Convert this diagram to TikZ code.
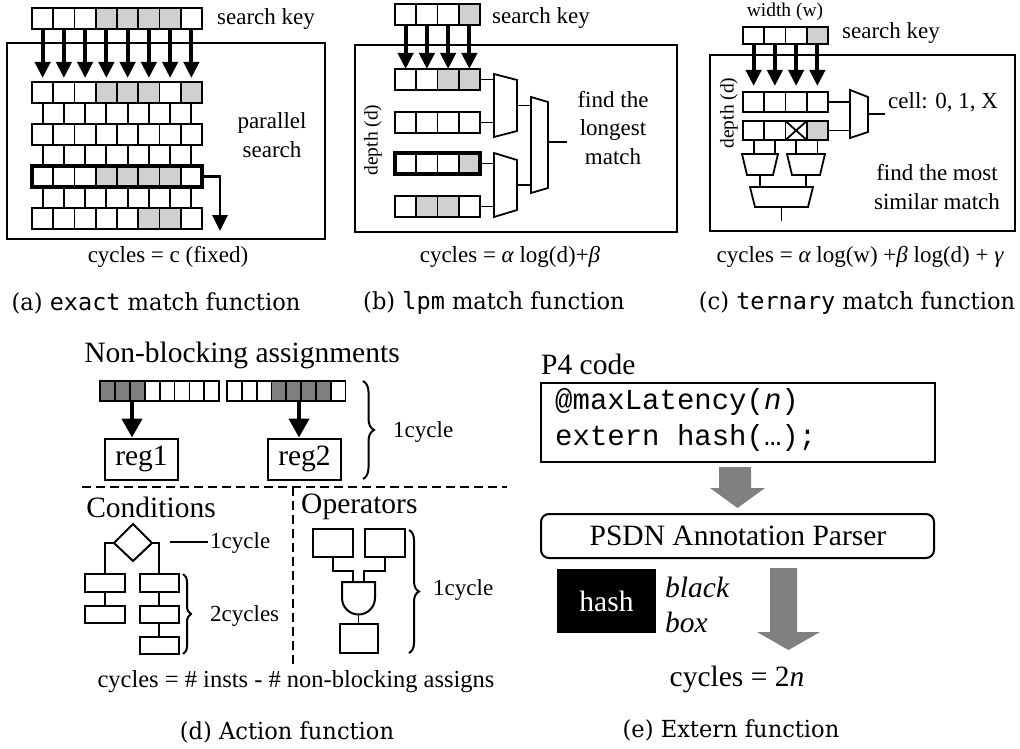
\documentclass[tikz,border=0pt]{standalone}
\usepackage{fontspec}
\setmainfont{Liberation Serif}
\newfontfamily\capfont{DejaVu Serif}[FakeStretch=0.96]
\newfontfamily\capmono{DejaVu Sans Mono}
\newfontfamily\codefont{Liberation Mono}
\usetikzlibrary{arrows.meta,decorations.pathreplacing,calc}

% a row of n empty cells of size w x h starting at (x0,y0)
\newcommand\cellrow[5]{%
  \foreach \k in {1,...,#5}{\draw[cellline] ({#1+(\k-1)*(#3)},#2) rectangle ++(#3,#4);}}
% fill the listed cells (0-based) of a row
\newcommand\cellfill[6]{%
  \foreach \k in {#6}{\fill[#5] ({#1+\k*(#3)},#2) rectangle ++(#3,#4);}}

\definecolor{keygray}{HTML}{D0D0D0}
\definecolor{darkbit}{HTML}{7F7F7F}
\definecolor{flowgray}{HTML}{808080}

\tikzset{
  lbl/.style={inner sep=0pt, font=\fontsize{23}{28.5}\selectfont},
  small/.style={inner sep=0pt, font=\fontsize{19.5}{22}\selectfont},
  headtxt/.style={inner sep=0pt, font=\fontsize{29.5}{35}\selectfont},
  subcap/.style={inner sep=0pt, font=\capfont\fontsize{23.5}{28}\selectfont},
  frame/.style={draw, line width=2pt},
  cellline/.style={draw, line width=1.8pt},
  boldrow/.style={draw, line width=3.3pt},
  wire/.style={draw, line width=1.8pt},
  keyarrow/.style={line width=4pt, -{Triangle[width=15pt,length=16pt]}},
  bitarrow/.style={line width=4.2pt, -{Triangle[width=20pt,length=19pt]}},
  mux/.style={draw, line width=1.8pt, fill=white},
  brace/.style={draw, line width=2pt, decorate, decoration={brace, amplitude=#1}},
  brace/.default=10pt,
  dashline/.style={draw, line width=2pt, dash pattern=on 9pt off 5pt},
  blockarrow/.style={fill=flowgray},
  regbox/.style={draw, line width=2pt, minimum width=73pt, minimum height=41pt,
    inner sep=0pt, font=\fontsize{29.5}{35}\selectfont},
  stepbox/.style={draw, line width=2pt},
}

\begin{document}
\begin{tikzpicture}[x=1pt, y=-1pt, line join=miter]
\useasboundingbox (0,0) rectangle (1020,749);

% ================= (a) exact match =================
\draw[frame] (7,43) rectangle (325,239);
\cellfill{32}{8}{21.25}{21}{keygray}{3,4,5,6}
\cellrow{32}{8}{21.25}{21}{8}
\foreach \k in {0,...,7}
  \draw[keyarrow] ({32+(\k+0.5)*21.25},29) -- ({32+(\k+0.5)*21.25},78);
% brick-like table rows
\cellfill{32}{82}{21.25}{21}{keygray}{3,4,5,7}
\cellrow{32}{82}{21.25}{21}{8}
\cellrow{42.6}{103}{21.25}{21}{7}
\cellrow{32}{124}{21.25}{21}{8}
\cellrow{42.6}{145}{21.25}{21}{7}
\cellfill{32}{166}{21.25}{21}{keygray}{3,4,5,6}
\cellrow{32}{166}{21.25}{21}{8}
\draw[boldrow] (32,166) rectangle ++(170,21);
\cellrow{42.6}{187}{21.25}{21}{7}
\cellfill{32}{208}{21.25}{21}{keygray}{5,6}
\cellrow{32}{208}{21.25}{21}{8}
\coordinate (hitA) at (202,176.5);
\coordinate (outA) at (220,231);
\draw[line width=2.8pt, -{Triangle[width=15pt,length=16pt]}] (hitA) -| (outA);
\node[lbl, anchor=west] (keyA) at (217,19) {search key};
\node[lbl, align=center] (parA) at (272,135) {parallel\\search};
\node[lbl] (cycA) at (168,257) {cycles = c (fixed)};
\node[subcap] (capA) at (156,303) {(a) {\capmono exact} match function};

% ================= (b) lpm match =================
\draw[frame] (355,45) rectangle (677,232);
\cellfill{395}{4}{21.25}{21}{keygray}{3}
\cellrow{395}{4}{21.25}{21}{4}
\foreach \k in {0,...,3}
  \draw[keyarrow] ({395+(\k+0.5)*21.25},25) -- ({395+(\k+0.5)*21.25},69);
\cellfill{395}{69}{21.25}{21}{keygray}{2,3}
\cellrow{395}{69}{21.25}{21}{4}
\cellrow{395}{112}{21.25}{21}{4}
\cellfill{395}{153}{21.25}{21}{keygray}{3}
\cellrow{395}{153}{21.25}{21}{4}
\draw[boldrow] (395,153) rectangle ++(85,21);
\cellfill{395}{196}{21.25}{21}{keygray}{1,2}
\cellrow{395}{196}{21.25}{21}{4}
% priority multiplexers
\draw[mux] (494,74) -- (517,80) -- (517,131) -- (494,137) -- cycle;
\draw[mux] (494,153) -- (517,160) -- (517,210) -- (494,217) -- cycle;
\draw[mux] (531,97) -- (548,102) -- (548,188) -- (531,193) -- cycle;
\draw[wire] (480,79.5) -- (494,79.5);
\draw[wire] (480,122.5) -- (494,122.5);
\draw[wire] (480,163.5) -- (494,163.5);
\draw[wire] (480,206.5) -- (494,206.5);
\draw[wire] (517,105.5) -- (531,105.5);
\draw[wire] (517,185) -- (531,185);
\draw[wire] (548,142) -- (567,142);
\node[small, rotate=90] (depB) at (373,140) {depth (d)};
\node[lbl, align=center] (findB) at (613,128) {find the\\longest\\match};
\node[lbl, anchor=west] (keyB) at (492,18) {search key};
\node[lbl] (cycB) at (510,257) {cycles = {\itshape α} log(d)+{\itshape β}};
\node[subcap] (capB) at (494,303) {(b) {\capmono lpm} match function};

% ================= (c) ternary match =================
\draw[frame] (710,55) rectangle (1015,231);
\node[small] (widC) at (785,12) {width (w)};
\cellfill{743}{27}{21.25}{17}{keygray}{3}
\cellrow{743}{27}{21.25}{17}{4}
\foreach \k in {0,...,3}
  \draw[keyarrow] ({743+(\k+0.5)*21.25},44) -- ({743+(\k+0.5)*21.25},86);
\cellrow{743}{92}{21.25}{20}{4}
\draw[boldrow, line width=2.8pt] (743,92) rectangle ++(85,20);
\cellfill{743}{121}{21.25}{19}{keygray}{3}
\cellrow{743}{121}{21.25}{19}{4}
\draw[line width=1.8pt] (785.5,121) -- (806.75,140) (785.5,140) -- (806.75,121);
\draw[boldrow, line width=2.8pt] (743,121) rectangle ++(85,19);
% comparator tree
\draw[mux] (850,90) -- (868,97) -- (868,132) -- (850,138) -- cycle;
\draw[wire] (828,102) -- (850,102);
\draw[wire] (828,130.5) -- (850,130.5);
\draw[wire] (868,114) -- (885,114);
\foreach \xx in {753.6,774.9,796.1,817.4} \draw[wire] (\xx,140) -- (\xx,154);
\draw[mux] (742,154) -- (778,154) -- (773,175) -- (747,175) -- cycle;
\draw[mux] (787,154) -- (825,154) -- (820,175) -- (792,175) -- cycle;
\draw[wire] (760,175) -- (760,187);
\draw[wire] (806,175) -- (806,187);
\draw[mux] (750,187) -- (813,187) -- (808,207) -- (755,207) -- cycle;
\draw[wire] (781.5,207) -- (781.5,221);
\node[small, rotate=90] (depC) at (729,113) {depth (d)};
\node[lbl, anchor=west] (keyC) at (842,33) {search key};
\node[lbl, anchor=west] (cellC) at (888,102) {cell: 0, 1, X};
\node[lbl, align=center] (findC) at (937,187) {find the most\\similar match};
\node[lbl] (cycC) at (860,257) {cycles = {\itshape α} log(w) +{\itshape β} log(d) + {\itshape γ}};
\node[subcap] (capC) at (857,303) {(c) {\capmono ternary} match function};

% ================= (d) action function =================
\node[headtxt] (nba) at (242,355) {Non-blocking assignments};
\cellfill{100}{381}{14.9}{20}{darkbit}{0,1,2}
\cellrow{100}{381}{14.9}{20}{8}
\cellfill{227}{381}{14.8}{20}{darkbit}{3,4,5,6}
\cellrow{227}{381}{14.8}{20}{8}
\node[regbox] (reg1) at (141.5,459) {reg1};
\node[regbox] (reg2) at (304.5,459) {reg2};
\coordinate (src1) at (132,401);
\coordinate (src2) at (299,401);
\draw[bitarrow] (src1) -- (src1 |- reg1.north);
\draw[bitarrow] (src2) -- (src2 |- reg2.north);
\draw[brace=11pt] (363,381) -- (363,479);
\node[lbl, anchor=west] (cyc1) at (393,432) {1cycle};
\draw[dashline] (82,487) -- (507,487);
\draw[dashline] (293,487) -- (293,664);
\node[headtxt] (condT) at (151,507) {Conditions};
\node[headtxt, anchor=west] (opT) at (301,507) {Operators};
% conditions flow
\draw[stepbox] (133,524) -- (152,543) -- (133,561) -- (114,543) -- cycle;
\draw[stepbox] (85,574) rectangle (125,592);
\draw[stepbox] (85,606) rectangle (125,623);
\draw[stepbox] (140,574) rectangle (179,592);
\draw[stepbox] (140,606) rectangle (179,623);
\draw[stepbox] (140,637) rectangle (179,654);
\draw[wire] (114,543) -| (105,574);
\draw[wire] (152,543) -| (159,574);
\draw[wire] (105,592) -- (105,606);
\draw[wire] (159,592) -- (159,606);
\draw[wire] (159,623) -- (159,637);
\draw[wire] (170,542) -- (208,542);
\node[lbl, anchor=west] (cyc2) at (210,543) {1cycle};
\draw[brace=8pt] (183,574) -- (183,654);
\node[lbl, anchor=west] (cyc3) at (210,616) {2cycles};
% operators
\draw[stepbox] (313,529) rectangle (353,557);
\draw[stepbox] (365,529) rectangle (405,557);
\draw[wire] (333,557) -- (333,571) -- (353,571) -- (353,582);
\draw[wire] (385,557) -- (385,571) -- (364,571) -- (364,582);
\draw[stepbox] (342,582) -- (375,582) -- (375,598)
   arc[start angle=0, end angle=180, radius=16.5] -- cycle;
\draw[wire] (358.5,614.5) -- (358.5,624);
\draw[stepbox] (340,624) rectangle (378,653);
\draw[brace=10pt] (409,530) -- (409,653);
\node[lbl, anchor=west] (cyc4) at (433,590) {1cycle};
\node[lbl, font=\fontsize{24.5}{29}\selectfont] (cycD) at (296,682)
   {cycles = \# insts - \# non-blocking assigns};
\node[subcap] (capD) at (287,732) {(d) Action function};

% ================= (e) extern function =================
\node[headtxt, anchor=west] (p4) at (541,364) {P4 code};
\draw[frame] (541,383) rectangle (935,462);
\node[inner sep=0pt, anchor=west, font=\codefont\fontsize{29}{34}\selectfont] (code1) at (555,402)
   {@maxLatency(\textit{n})};
\node[inner sep=0pt, anchor=west, font=\codefont\fontsize{29}{34}\selectfont] (code2) at (555,438)
   {extern hash(…);};
\fill[blockarrow] (719,467) -- (751,467) -- (751,488) -- (765,488) -- (737.5,508)
   -- (710,488) -- (719,488) -- cycle;
\draw[frame, rounded corners=8pt] (541,514) rectangle (934,558);
\node[headtxt] (parser) at (738,536) {PSDN Annotation Parser};
\node[fill=black, minimum width=99pt, minimum height=64pt, inner sep=0pt,
   text=white, font=\fontsize{29.5}{35}\selectfont] (hash) at (606.5,601) {hash};
\node[headtxt, anchor=west, font=\itshape\fontsize{29.5}{35}\selectfont] (bb1) at (665,587) {black};
\node[headtxt, anchor=west, font=\itshape\fontsize{29.5}{35}\selectfont] (bb2) at (665,622) {box};
\fill[blockarrow] (770,568) -- (797,568) -- (797,632) -- (820,632) -- (788.5,650)
   -- (757,632) -- (770,632) -- cycle;
\node[headtxt] (cycE) at (737,679) {cycles = 2\textit{n}};
\node[subcap] (capE) at (731,730) {(e) Extern function};
\end{tikzpicture}
\end{document}
